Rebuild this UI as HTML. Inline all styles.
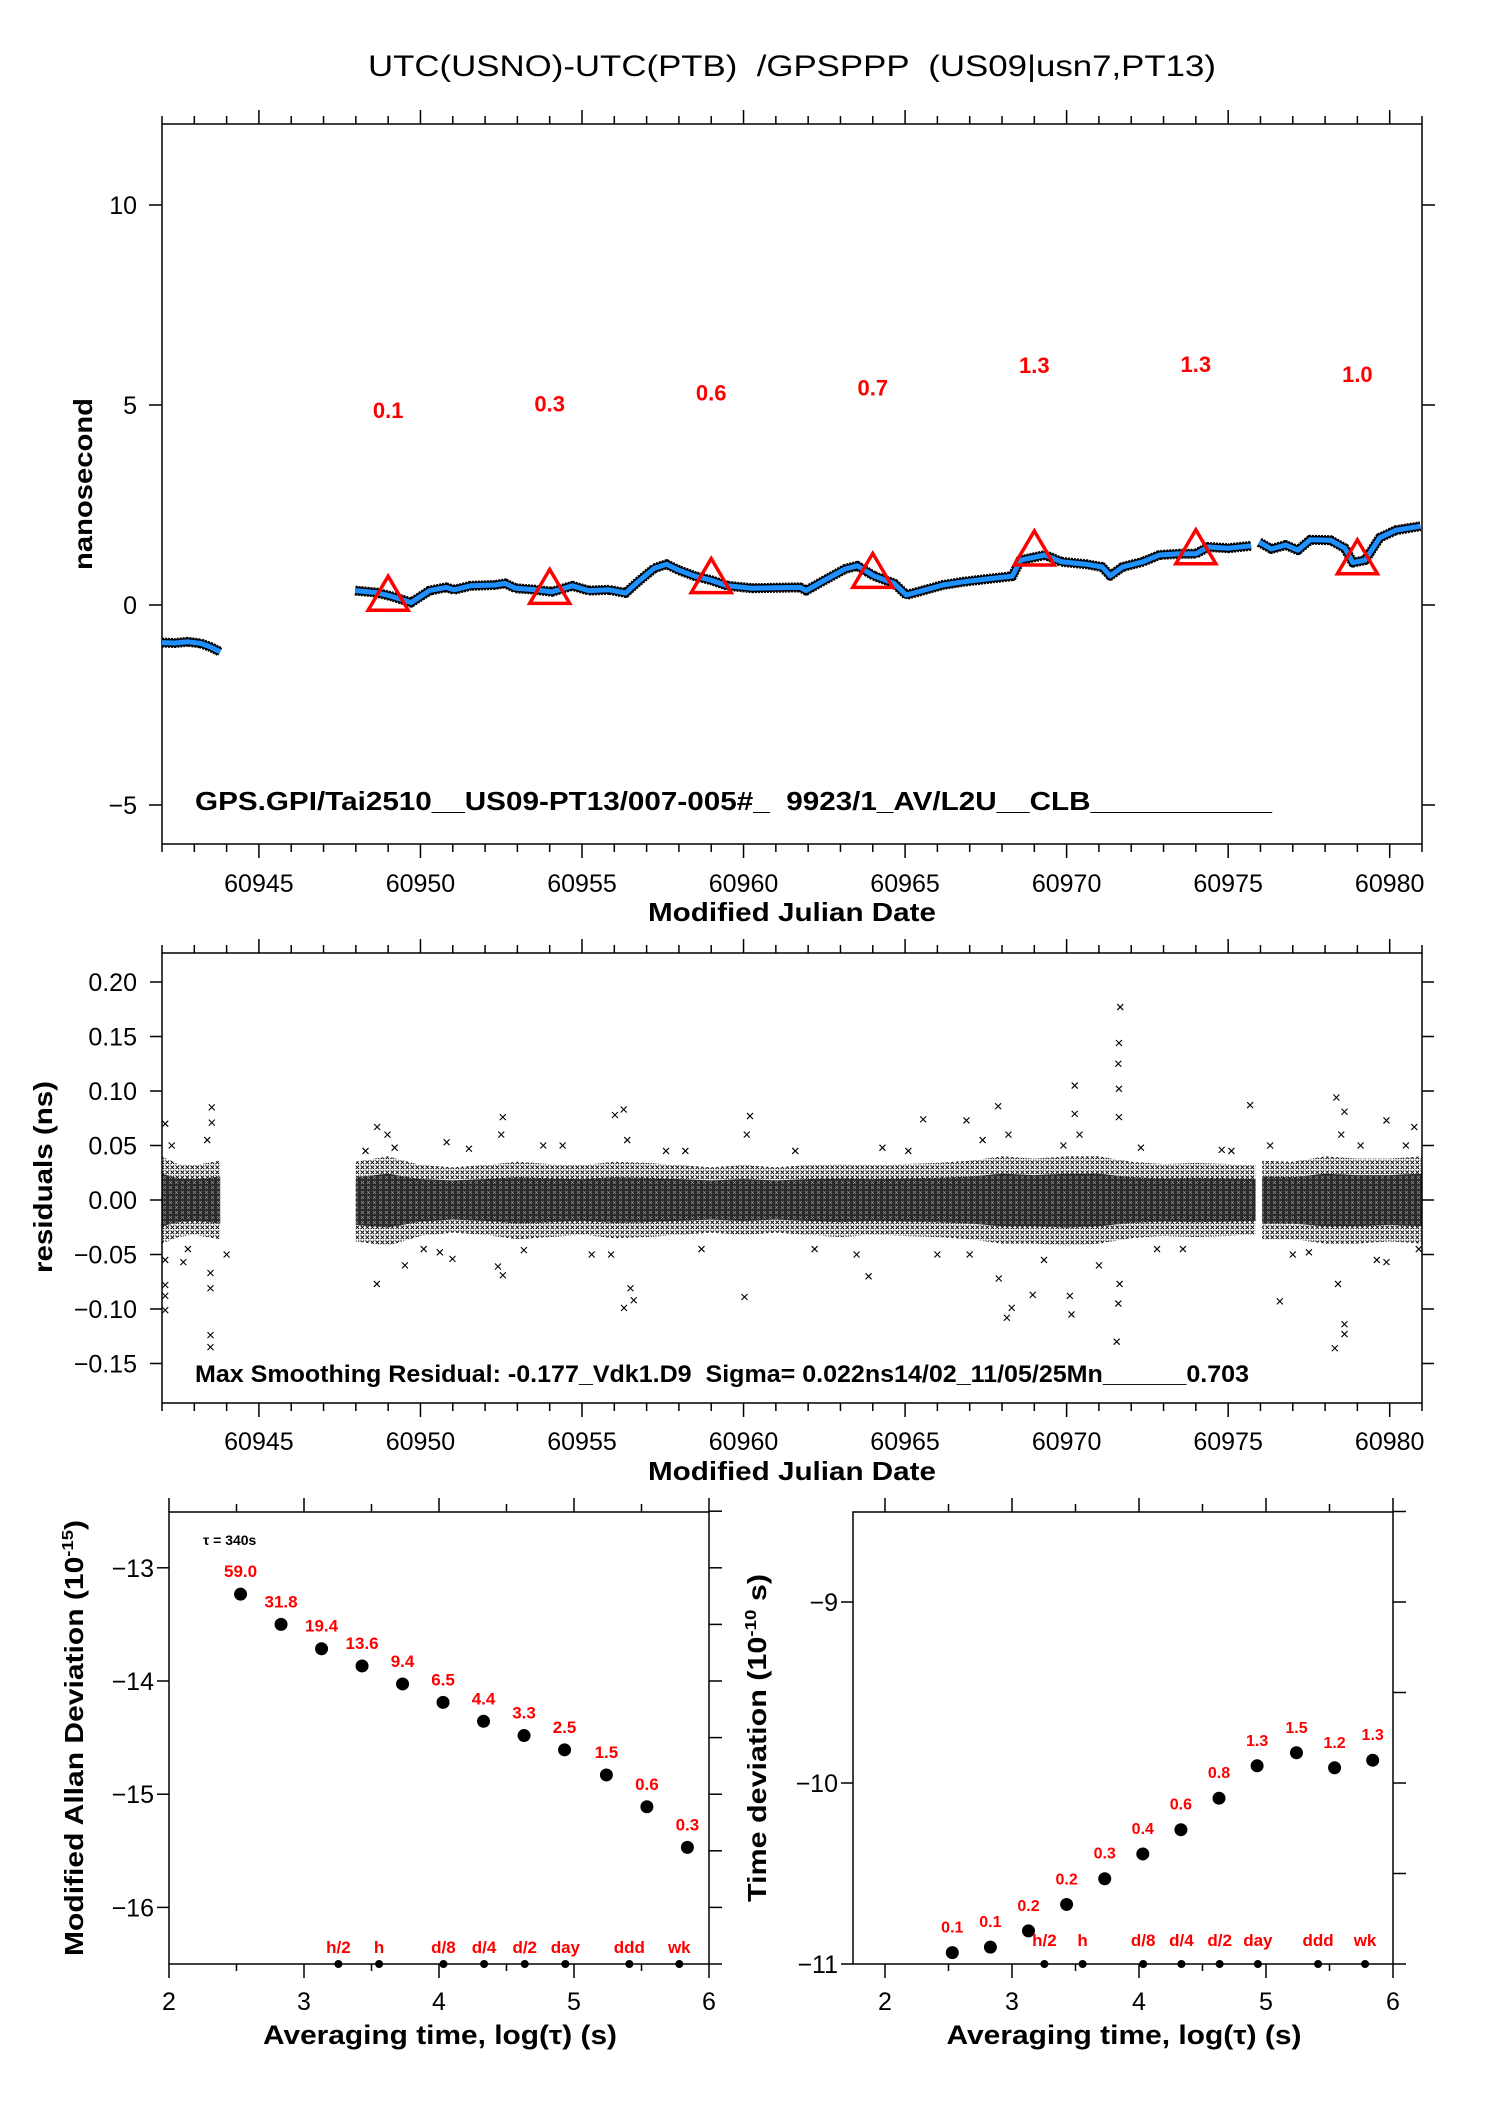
<!DOCTYPE html>
<html><head><meta charset="utf-8"><style>
html,body{margin:0;padding:0;background:#fff;}
svg{display:block;font-family:"Liberation Sans",sans-serif;}
text{white-space:pre;}
</style></head><body>
<svg id="fig" xmlns="http://www.w3.org/2000/svg" width="1488" height="2105" viewBox="0 0 1488 2105">
<defs>
<pattern id="xp" width="5" height="5" patternUnits="userSpaceOnUse"><path d="M0.5,0.5 L4.2,4.2 M4.2,0.5 L0.5,4.2" stroke="#000" stroke-width="0.9"/></pattern>
<pattern id="xp2" width="6" height="5" patternUnits="userSpaceOnUse"><rect width="6" height="5" fill="#2a2a2a"/><path d="M1,1 L4,4 M4,1 L1,4" stroke="#fff" stroke-width="0.6" opacity="0.5"/></pattern>
</defs>
<rect x="0" y="0" width="1488" height="2105" fill="#fff"/>
<text x="792" y="76" font-size="30" text-anchor="middle" textLength="848" lengthAdjust="spacingAndGlyphs">UTC(USNO)-UTC(PTB)  /GPSPPP  (US09|usn7,PT13)</text>
<g id="top"></g>
<g id="mid"></g>
<g id="bl"></g>
<g id="br"></g>
</svg>
<script>
// ---------- data ----------
const seg1Days = [60942.0, 60942.4, 60942.8, 60943.2, 60943.5, 60943.8];
const seg1Vals = [-0.94, -0.95, -0.92, -0.96, -1.05, -1.17];
const seg2Days = [60947.98,60948.64,60949.14,60949.71,60950.28,60950.79,60951.04,60951.55,60952.3,60952.62,60952.94,60953.57,60954.07,60954.7,60955.21,60955.84,60956.35,60956.73,60957.24,60957.62,60958.0,60958.5,60959.0,60959.5,60960.26,60961.0,60961.75,60961.94,60962.51,60963.14,60963.52,60964.03,60964.66,60965.04,60965.54,60966.17,60966.8,60967.43,60968.32,60968.57,60969.33,60969.84,60970.6,60971.1,60971.35,60971.73,60972.36,60972.87,60973.5,60974.0,60974.38,60975.01,60975.71];
const seg2Vals = [0.36,0.31,0.21,0.06,0.36,0.44,0.38,0.48,0.5,0.54,0.42,0.38,0.33,0.48,0.36,0.38,0.3,0.58,0.92,1.02,0.87,0.72,0.62,0.48,0.42,0.43,0.44,0.36,0.62,0.9,0.98,0.73,0.54,0.25,0.36,0.5,0.58,0.64,0.72,1.12,1.25,1.08,1.02,0.95,0.73,0.95,1.08,1.25,1.28,1.28,1.45,1.42,1.48];
const seg3Days = [60975.96,60976.34,60976.78,60977.16,60977.54,60978.17,60978.61,60978.86,60979.24,60979.69,60980.19,60980.95];
const seg3Vals = [1.57,1.4,1.5,1.37,1.63,1.62,1.42,1.06,1.12,1.68,1.87,1.97];
const triDays = [60949,60954,60959,60964,60969,60974,60979];
const triVals = [0.27,0.44,0.71,0.84,1.4,1.43,1.18];
const triLabels = ["0.1","0.3","0.6","0.7","1.3","1.3","1.0"];
const topYTicks = [10,5,0,-5];

const bandDays = [60942.0,60942.5,60943.0,60943.8, 60948.0,60949.0,60950.0,60951.0,60952.0,60953.0,60954.0,60955.0,60956.0,60957.0,60958.0,60959.0,60960.0,60961.0,60962.0,60963.0,60964.0,60965.0,60966.0,60967.0,60968.0,60969.0,60970.0,60971.0,60972.0,60973.0,60974.0,60975.0,60975.85, 60976.05,60977.0,60978.0,60979.0,60980.0,60981.0];
const bandUpper = [0.04,0.033,0.032,0.036, 0.035,0.04,0.032,0.03,0.032,0.035,0.033,0.032,0.035,0.034,0.032,0.03,0.032,0.03,0.032,0.033,0.032,0.033,0.034,0.036,0.04,0.038,0.04,0.04,0.035,0.033,0.034,0.033,0.032, 0.036,0.035,0.04,0.038,0.038,0.04];
const bandLower = [-0.04,-0.034,-0.032,-0.036, -0.038,-0.042,-0.033,-0.03,-0.032,-0.036,-0.034,-0.032,-0.035,-0.034,-0.032,-0.03,-0.032,-0.03,-0.032,-0.034,-0.032,-0.033,-0.034,-0.036,-0.04,-0.04,-0.042,-0.04,-0.035,-0.033,-0.034,-0.033,-0.032, -0.036,-0.036,-0.04,-0.04,-0.038,-0.04];
const bandSegEnds = [3, 32, 38];
const outDays = [60942.1,60942.1,60942.1,60942.1,60942.1,60942.66,60943.54,60943.54,60943.5,60943.5,60943.5,60943.5,60948.65,60948.66,60948.98,60949.52,60950.81,60950.99,60952.55,60952.55,60952.4,60956.02,60956.29,60956.3,60956.6,60956.5,60960.03,60960.2,60963.87,60965.56,60966.9,60967.88,60967.9,60968.15,60968.3,60968.95,60970.25,60970.25,60970.1,60970.15,60971.66,60971.62,60971.6,60971.62,60971.62,60971.55,60971.6,60971.64,60975.68,60976.6,60978.35,60978.6,60978.3,60978.6,60978.6,60978.4,60979.9,60980.76,60979.9,60942.3,60942.8,60943.4,60949.2,60950.1,60951.5,60952.5,60953.2,60954.4,60955.3,60956.4,60957.6,60958.7,60960.1,60961.6,60963.5,60964.3,60966.0,60967.4,60968.2,60969.3,60970.4,60971.0,60972.3,60973.6,60974.8,60976.3,60977.5,60978.5,60979.6,60980.5,60944.0,60948.3,60950.6,60953.8,60955.9,60958.2,60962.2,60965.1,60967.0,60969.9,60972.8,60975.1,60977.0,60979.1,60980.9];
const outVals = [0.070,-0.101,-0.088,-0.078,-0.055,-0.057,0.085,0.071,-0.124,-0.135,-0.081,-0.067,-0.077,0.067,0.060,-0.060,0.053,-0.054,0.076,-0.069,-0.061,0.078,0.083,-0.099,-0.092,-0.081,-0.089,0.077,-0.070,0.074,0.073,0.086,-0.072,-0.108,-0.099,-0.087,0.105,0.079,-0.088,-0.105,0.177,0.144,0.125,0.102,0.076,-0.130,-0.095,-0.077,0.087,-0.093,0.094,0.081,-0.136,-0.123,-0.114,-0.077,0.073,0.067,-0.057,0.05,-0.045,0.055,0.048,-0.045,0.047,0.06,-0.046,0.05,-0.05,0.055,0.045,-0.045,0.06,0.045,-0.05,0.048,-0.05,0.055,0.06,-0.055,0.06,-0.06,0.048,-0.045,0.046,0.05,-0.048,0.06,-0.055,0.05,-0.05,0.045,-0.048,0.05,-0.05,0.045,-0.045,0.045,-0.05,0.05,-0.045,0.045,-0.05,0.05,-0.045];
const midYTicks = [0.20,0.15,0.10,0.05,0.00,-0.05,-0.10,-0.15];
const midYLabels = ["0.20","0.15","0.10","0.05","0.00","\u22120.05","\u22120.10","\u22120.15"];
const mjdTicks = [60945,60950,60955,60960,60965,60970,60975,60980];

const logTau = [2.53,2.83,3.13,3.43,3.73,4.03,4.33,4.63,4.93,5.24,5.54,5.84];
const madevVals = [-13.233,-13.50,-13.715,-13.867,-14.026,-14.189,-14.356,-14.482,-14.608,-14.830,-15.111,-15.470];
const madevLabels = ["59.0","31.8","19.4","13.6","9.4","6.5","4.4","3.3","2.5","1.5","0.6","0.3"];
const tdevVals = [-10.937,-10.907,-10.817,-10.671,-10.529,-10.392,-10.258,-10.084,-9.905,-9.833,-9.916,-9.874];
const tdevLabels = ["0.1","0.1","0.2","0.2","0.3","0.4","0.6","0.8","1.3","1.5","1.2","1.3"];
const markLog = [3.255,3.556,4.033,4.334,4.635,4.936,5.41,5.78];
const markNames = ["h/2","h","d/8","d/4","d/2","day","ddd","wk"];
const adevYTicks = [-13,-14,-15,-16];
const tdevYTicks = [-9,-10,-11];
const logTicks = [2,3,4,5,6];

// ---------- helpers ----------
const NS = "http://www.w3.org/2000/svg";
function mk(tag, attrs, parent, text) {
  const e = document.createElementNS(NS, tag);
  for (const k in attrs) e.setAttribute(k, attrs[k]);
  if (text !== undefined) e.textContent = text;
  parent.appendChild(e);
  return e;
}
function line(p, x1, y1, x2, y2, w) {
  return mk("line", {x1:x1, y1:y1, x2:x2, y2:y2, stroke:"#000", "stroke-width":w||1.5}, p);
}

// ---------- top panel ----------
const gT = document.getElementById("top");
const TL = 162, TR = 1422, TT = 124, TB = 844;
const xM = d => TL + (d - 60942) * (TR - TL) / 39;
const yT = v => 605 - v * 40;

function mjdAxis(g, T, B, labY, titleY) {
  let f = mk("rect", {x:TL, y:T, width:TR-TL, height:B-T, fill:"none", stroke:"#000", "stroke-width":1.5}, g);
  
  
  for (let d = 60942; d <= 60981; d++) {
    const major = d % 5 === 0;
    const L = major ? 14 : 8;
    let t1 = line(g, xM(d), T, xM(d), T - L);
    
    
    let t2 = line(g, xM(d), B, xM(d), B + L);
    
    
  }
  mjdTicks.forEach(d => {
    let t = mk("text", {x:xM(d), y:labY, "font-size":25, "text-anchor":"middle"}, g, String(d));
    
    
  });
  let tt = mk("text", {x:792, y:titleY, "font-size":26, "font-weight":"bold", "text-anchor":"middle", textLength:288, lengthAdjust:"spacingAndGlyphs"}, g, "Modified Julian Date");
  
  
}
mjdAxis(gT, TT, TB, 892, 921);
topYTicks.forEach(v => {
  let a = line(gT, TL, yT(v), TL - 13, yT(v));
  
  
  let b = line(gT, TR, yT(v), TR + 13, yT(v));
  
  
  let t = mk("text", {x:137, y:yT(v) + 9, "font-size":25, "text-anchor":"end"}, gT, v < 0 ? "\u2212" + (-v) : String(v));
  
  
});
let ylt = mk("text", {x:0, y:0, "font-size":26, "font-weight":"bold", "text-anchor":"middle", textLength:172, lengthAdjust:"spacingAndGlyphs", transform:"translate(92,484) rotate(-90)"}, gT, "nanosecond");



[[seg1Days, seg1Vals],[seg2Days, seg2Vals],[seg3Days, seg3Vals]].forEach(([ds, vs]) => {
  const pts = ds.map((d,i) => xM(d).toFixed(1) + "," + yT(vs[i]).toFixed(1)).join(" ");
  let h = mk("polyline", {points:pts, fill:"none", stroke:"#000", "stroke-width":10, "stroke-linejoin":"round", "stroke-dasharray":"2 1"}, gT);
  
  
  let h2 = mk("polyline", {points:pts, fill:"none", stroke:"#000", "stroke-width":8, "stroke-linejoin":"round"}, gT);
  
  
  let s = mk("polyline", {points:pts, fill:"none", stroke:"#1e90ff", "stroke-width":5, "stroke-linejoin":"round"}, gT);
  
  
});
triDays.forEach((d, i) => {
  const cx = xM(d), cy = yT(triVals[i]);
  let tr = mk("polygon", {points:`${cx-20},${cy+16} ${cx+20},${cy+16} ${cx},${cy-18}`, fill:"none", stroke:"#ff0000", "stroke-width":3.5}, gT);
  
  
  let t = mk("text", {x:cx, y:yT(triVals[i] + 4.6) + 8, "font-size":22, "font-weight":"bold", fill:"#ff0000", "text-anchor":"middle"}, gT, triLabels[i]);
  
  
});
let ann1 = mk("text", {x:195, y:810, "font-size":26, "font-weight":"bold", textLength:1077, lengthAdjust:"spacingAndGlyphs"}, gT, "GPS.GPI/Tai2510__US09-PT13/007-005#_  9923/1_AV/L2U__CLB___________");



// ---------- middle panel ----------
const gM = document.getElementById("mid");
const MT = 953, MB = 1403;
const yR = v => 1200 - v * 1090;
let s0 = 0;
bandSegEnds.forEach(e => {
  const up = [], lo = [], cu = [], cl = [];
  for (let i = s0; i <= e; i++) {
    up.push(xM(bandDays[i]).toFixed(1) + "," + yR(bandUpper[i]).toFixed(1));
    lo.unshift(xM(bandDays[i]).toFixed(1) + "," + yR(bandLower[i]).toFixed(1));
    cu.push(xM(bandDays[i]).toFixed(1) + "," + yR(bandUpper[i] * 0.6).toFixed(1));
    cl.unshift(xM(bandDays[i]).toFixed(1) + "," + yR(bandLower[i] * 0.6).toFixed(1));
  }
  let b = mk("polygon", {points:up.concat(lo).join(" "), fill:"url(#xp)"}, gM);
  
  
  let c = mk("polygon", {points:cu.concat(cl).join(" "), fill:"url(#xp2)"}, gM);
  
  
  s0 = e + 1;
});
outDays.forEach((d, i) => {
  const x = xM(d), y = yR(outVals[i]);
  let o = mk("path", {d:`M${x-3},${y-3}L${x+3},${y+3}M${x+3},${y-3}L${x-3},${y+3}`, stroke:"#000", "stroke-width":1.1}, gM);
  
  
});
mjdAxis(gM, MT, MB, 1450, 1480);
midYTicks.forEach((v, i) => {
  let a = line(gM, TL, yR(v), TL - 12, yR(v));
  
  
  let b = line(gM, TR, yR(v), TR + 12, yR(v));
  
  
  let t = mk("text", {x:137, y:yR(v) + 9, "font-size":25, "text-anchor":"end"}, gM, midYLabels[i]);
  
  
});
let ylm = mk("text", {x:0, y:0, "font-size":26, "font-weight":"bold", "text-anchor":"middle", textLength:192, lengthAdjust:"spacingAndGlyphs", transform:"translate(52,1177) rotate(-90)"}, gM, "residuals (ns)");


let ann2 = mk("text", {x:195, y:1382, "font-size":24, "font-weight":"bold", textLength:1054, lengthAdjust:"spacingAndGlyphs"}, gM, "Max Smoothing Residual: -0.177_Vdk1.D9  Sigma= 0.022ns14/02_11/05/25Mn______0.703");



// ---------- stability panels ----------
function stabPanel(g, L, R, x2, pxPerDec, yMin, yMax, pxPerUnit, yTicks, vals, labels, labOff, labSize, titleParts, titleX, titleLen, titleXc, titleW, markLabY) {
  const T = 1512, B = 1964;
  const x = l => x2 + (l - 2) * pxPerDec;
  const y = v => B - (v - yMin) * pxPerUnit;
  let f = mk("rect", {x:L, y:T, width:R-L, height:B-T, fill:"none", stroke:"#000", "stroke-width":1.5}, g);
  
  
  for (let l = 2; l <= 6.001; l += 0.5) {
    if (x(l) < L - 1) continue;
    const major = Math.abs(l - Math.round(l)) < 0.01;
    let a = line(g, x(l), T, x(l), T - (major ? 14 : 8));
    
    
    let b = line(g, x(l), B, x(l), B + (major ? 14 : 7));
    
    
  }
  logTicks.forEach(l => {
    let t = mk("text", {x:x(l), y:2010, "font-size":25, "text-anchor":"middle"}, g, String(l));
    
    
  });
  for (let v = yMin; v <= yMax + 0.001; v += 0.5) {
    const major = Math.abs(v - Math.round(v)) < 0.01;
    let b = line(g, R, y(v), R + 13, y(v));
    
    
    if (major) {
      let a = line(g, L, y(v), L - 12, y(v));
      
      
    }
  }
  yTicks.forEach(v => {
    let t = mk("text", {x:L - 15, y:y(v) + 9, "font-size":25, "text-anchor":"end"}, g, "\u2212" + (-v));
    
    
  });
  vals.forEach((v, i) => {
    let c = mk("circle", {cx:x(logTau[i]), cy:y(v), r:6.5, fill:"#000"}, g);
    
    
    let t = mk("text", {x:x(logTau[i]), y:y(v) - labOff, "font-size":labSize, "font-weight":"bold", fill:"#ff0000", "text-anchor":"middle"}, g, labels[i]);
    
    
  });
  markLog.forEach((l, i) => {
    let c = mk("circle", {cx:x(l), cy:B, r:4, fill:"#000"}, g);
    
    
    let t = mk("text", {x:x(l), y:markLabY, "font-size":17, "font-weight":"bold", fill:"#ff0000", "text-anchor":"middle"}, g, markNames[i]);
    
    
  });
  let yt = mk("text", {x:0, y:0, "font-size":26, "font-weight":"bold", "text-anchor":"middle", textLength:titleLen, lengthAdjust:"spacingAndGlyphs", transform:`translate(${titleX},1738) rotate(-90)`}, g);
  
  
  mk("tspan", {}, yt, titleParts[0]);
  mk("tspan", {"font-size":16, dy:-10}, yt, titleParts[1]);
  mk("tspan", {dy:10}, yt, titleParts[2]);
  let xt = mk("text", {x:titleXc, y:2044, "font-size":27, "font-weight":"bold", "text-anchor":"middle", textLength:titleW, lengthAdjust:"spacingAndGlyphs"}, g, "Averaging time, log(\u03c4) (s)");
  
  
}
const gBL = document.getElementById("bl");
stabPanel(gBL, 169, 709, 169, 135, -16.5, -12.5, 113.2, adevYTicks, madevVals, madevLabels, 17, 17,
  ["Modified Allan Deviation (10", "-15", ")"], 83, 436, 440, 354, 1953);
let tau = mk("text", {x:203, y:1545, "font-size":14, "font-weight":"bold"}, gBL, "\u03c4 = 340s");


const gBR = document.getElementById("br");
stabPanel(gBR, 853, 1393, 885, 127, -11, -8.5, 181, tdevYTicks, tdevVals, tdevLabels, 20, 16,
  ["Time deviation (10", "-10", " s)"], 766, 328, 1124, 355, 1946);
</script>
</body></html>
